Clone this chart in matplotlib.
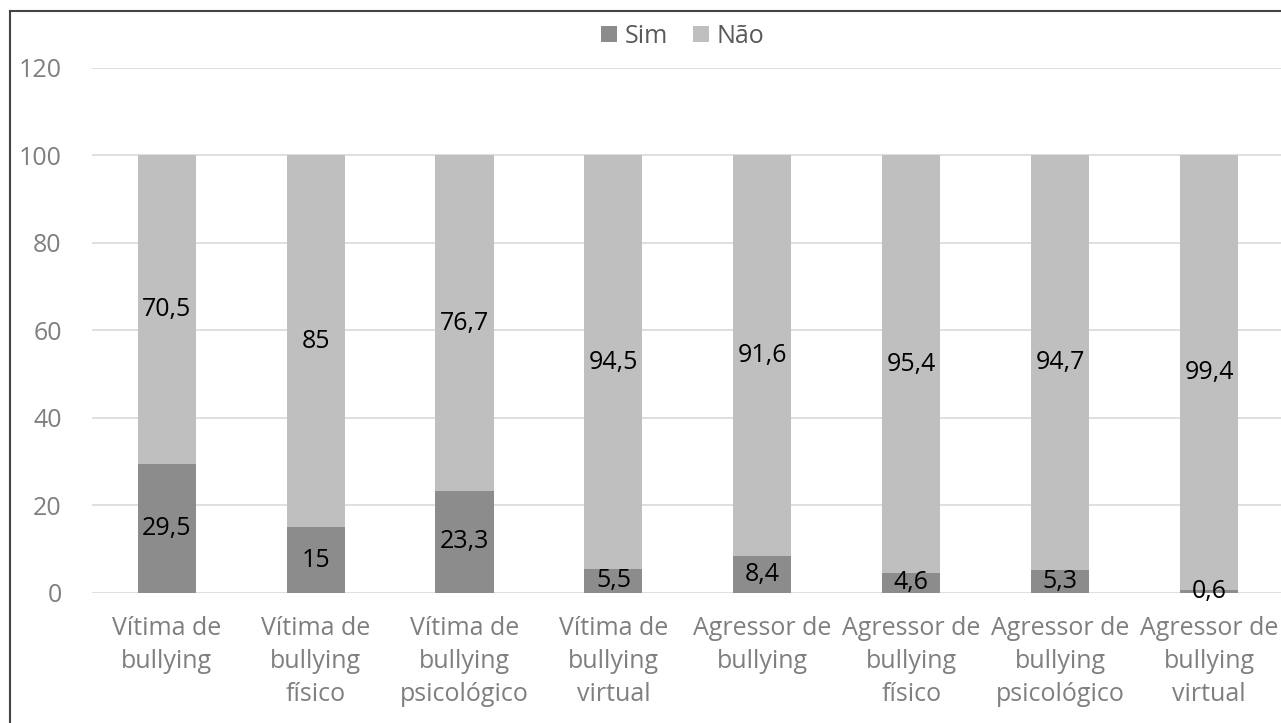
import matplotlib
matplotlib.use("Agg")
import matplotlib.pyplot as plt
from matplotlib.lines import Line2D
import numpy as np

categories = [
    "Vítima de\nbullying",
    "Vítima de\nbullying\nfísico",
    "Vítima de\nbullying\npsicológico",
    "Vítima de\nbullying\nvirtual",
    "Agressor de\nbullying",
    "Agressor de\nbullying\nfísico",
    "Agressor de\nbullying\npsicológico",
    "Agressor de\nbullying\nvirtual",
]
sim = [29.5, 15, 23.3, 5.5, 8.4, 4.6, 5.3, 0.6]
nao = [70.5, 85, 76.7, 94.5, 91.6, 95.4, 94.7, 99.4]

c_sim = "#8c8c8c"
c_nao = "#bfbfbf"
c_text = "#7f7f7f"

plt.rcParams["font.family"] = ["Open Sans", "DejaVu Sans"]

fig = plt.figure(figsize=(12.81, 7.23), dpi=100)
ax = fig.add_axes([0.072, 0.18, 0.93, 0.726])

x = np.arange(len(categories))
w = 0.39
b1 = ax.bar(x, sim, width=w, color=c_sim, label="Sim", zorder=3)
b2 = ax.bar(x, nao, width=w, bottom=sim, color=c_nao, label="Não", zorder=3)


def fmt(v):
    return f"{v:g}".replace(".", ",")


ax.bar_label(b1, labels=[fmt(v) for v in sim], label_type="center",
             fontsize=18, color="black")
ax.bar_label(b2, labels=[fmt(v) for v in nao], label_type="center",
             fontsize=18, color="black")

ax.set_xlim(-0.5, 7.5)
ax.set_ylim(0, 120)
ax.set_yticks(range(0, 121, 20))
ax.set_xticks(x)
ax.set_xticklabels(categories, fontsize=18, color=c_text, linespacing=1.4)
ax.tick_params(axis="y", labelsize=18, labelcolor=c_text, length=0, pad=22)
ax.tick_params(axis="x", length=0, pad=17)
ax.grid(axis="y", color="#d9d9d9", linewidth=1.2, zorder=0)
for s in ax.spines.values():
    s.set_visible(False)

leg = fig.legend(handles=[b1, b2], labels=["Sim", "Não"], loc="center",
                 bbox_to_anchor=(0.533, 0.950), ncol=2, frameon=False,
                 fontsize=18, handlelength=0.65, handleheight=0.65,
                 handletextpad=0.3, columnspacing=1.0)
for t in leg.get_texts():
    t.set_color("#595959")

# frame border (left and top visible)
fig.add_artist(Line2D([0.008, 0.008], [0, 0.985], color="#444444", linewidth=1.5))
fig.add_artist(Line2D([0.008, 1.0], [0.985, 0.985], color="#444444", linewidth=1.5))

plt.savefig("out.png", dpi=100)
